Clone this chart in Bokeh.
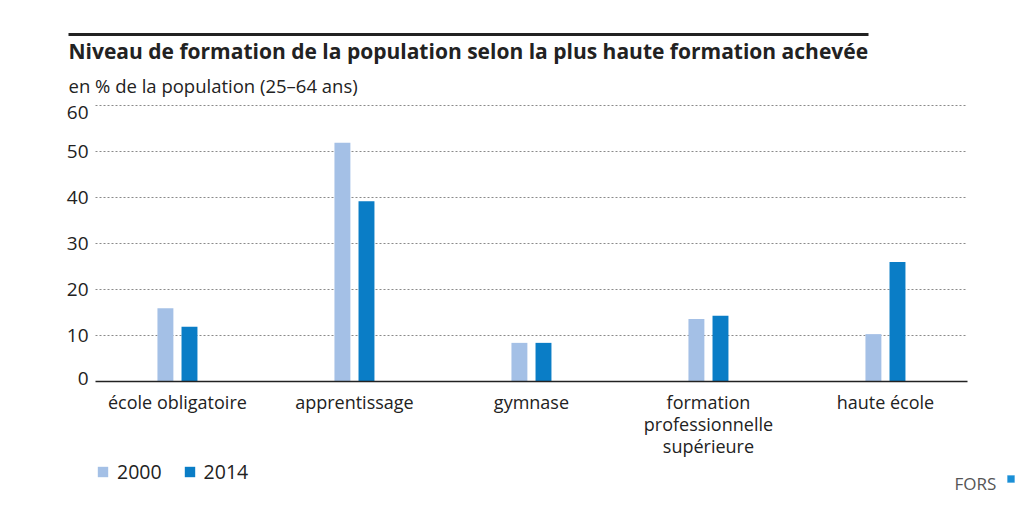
from bokeh.plotting import figure
from bokeh.models import (Range1d, FixedTicker, Label, Legend, LegendItem,
                          BoxAnnotation, LinearAxis)
from bokeh.embed import file_html
from bokeh.resources import INLINE

categories = ["école obligatoire", "apprentissage", "gymnase",
              "formation\nprofessionnelle\nsupérieure", "haute école"]
values_2000 = [15.9, 51.9, 8.4, 13.6, 10.3]
values_2014 = [11.9, 39.2, 8.4, 14.3, 26.0]
years = ["2000", "2014"]
y_ticks = [0, 10, 20, 30, 40, 50, 60]

title_text = "Niveau de formation de la population selon la plus haute formation achevée"
subtitle_text = "en % de la population (25\u201364 ans)"

FONT = "Open Sans"
TXT = "#222222"
C2000 = "#a4c0e6"
C2014 = "#0a7dc6"

W, H = 1035, 512
# plot area (in page pixels): x 95..967, y(0)=381, y(60)=105
PX_X = 177.0
PX_Y = 4.6
XL, XR = -0.463, 4.463
x_start = XL - 95 / PX_X
x_end = x_start + W / PX_X
y_end = 381 / PX_Y
y_start = -(H - 381) / PX_Y

p = figure(width=W, height=H, output_backend="svg", toolbar_location=None,
           x_range=Range1d(x_start, x_end), y_range=Range1d(y_start, y_end),
           min_border=0)
p.outline_line_color = None
p.background_fill_color = "white"
p.border_fill_color = "white"
p.grid.visible = False

# dashed gridlines
gt = y_ticks[1:]
p.segment(x0=[XL] * len(gt), x1=[XR] * len(gt), y0=gt, y1=gt,
          line_color="#8a8a8a", line_width=1, line_dash="2 2")

xs = list(range(len(categories)))
off = 0.068
bw = 0.09
r1 = p.vbar(x=[x - off for x in xs], top=values_2000, width=bw,
            fill_color=C2000, line_color=None)
r2 = p.vbar(x=[x + off for x in xs], top=values_2014, width=bw,
            fill_color=C2014, line_color=None)


def style_y(ax):
    ax.fixed_location = XL
    ax.axis_line_color = None
    ax.major_tick_line_color = None
    ax.minor_tick_line_color = None
    ax.major_tick_out = 0
    ax.major_tick_in = 0
    ax.major_label_standoff = 7
    ax.major_label_text_font = FONT
    ax.major_label_text_font_size = "19px"
    ax.major_label_text_color = TXT


# y axis: inner ticks centred on their gridlines
p.yaxis.ticker = FixedTicker(ticks=y_ticks[1:-1])
style_y(p.yaxis[0])
# end ticks (0 and 60) are nudged inward in the reference
end_pos = [0.55, 58.5]
end_axis = LinearAxis(ticker=FixedTicker(ticks=end_pos),
                      major_label_overrides={end_pos[0]: str(y_ticks[0]),
                                             end_pos[1]: str(y_ticks[-1])})
style_y(end_axis)
p.add_layout(end_axis, "left")

# x axis
p.xaxis.fixed_location = 0
p.xaxis.bounds = (XL, XR)
p.xaxis.ticker = FixedTicker(ticks=xs)
p.xaxis.major_label_overrides = {i: c for i, c in zip(xs, categories)}
p.xaxis.axis_line_color = "#222222"
p.xaxis.axis_line_width = 1.5
p.xaxis.major_tick_line_color = None
p.xaxis.minor_tick_line_color = None
p.xaxis.major_tick_out = 0
p.xaxis.major_tick_in = 0
p.xaxis.major_label_standoff = 8
p.xaxis.major_label_text_font = FONT
p.xaxis.major_label_text_font_size = "18px"
p.xaxis.major_label_text_color = TXT
p.xaxis.major_label_text_line_height = 0.93

# title rule
p.add_layout(BoxAnnotation(left=68, right=868, bottom=H - 35.5, top=H - 32.5,
                           left_units="screen", right_units="screen",
                           bottom_units="screen", top_units="screen",
                           fill_color="#222222", fill_alpha=1, line_color=None))

p.add_layout(Label(x=68, y=H - 50, x_units="screen", y_units="screen",
                   text=title_text, text_font=FONT, text_font_style="bold",
                   text_font_size="21px", text_color=TXT,
                   text_baseline="alphabetic"))
p.add_layout(Label(x=68, y=H - 85, x_units="screen", y_units="screen",
                   text=subtitle_text, text_font=FONT,
                   text_font_size="18.5px", text_color=TXT,
                   text_baseline="alphabetic"))

legend = Legend(items=[LegendItem(label=years[0], renderers=[r1]),
                       LegendItem(label=years[1], renderers=[r2])],
                orientation="horizontal", location=(96, H - 485),
                padding=0, margin=0, spacing=21,
                glyph_width=13, glyph_height=13, label_height=13,
                label_standoff=8, border_line_color=None,
                background_fill_alpha=0,
                label_text_font=FONT, label_text_font_size="19.5px",
                label_text_color=TXT)
p.add_layout(legend, "center")

p.add_layout(Label(x=954, y=H - 483, x_units="screen", y_units="screen",
                   text="FORS", text_font=FONT, text_font_size="17px",
                   text_color="#555555", text_baseline="alphabetic"))
p.add_layout(BoxAnnotation(left=1007, right=1014, bottom=H - 482, top=H - 475,
                           left_units="screen", right_units="screen",
                           bottom_units="screen", top_units="screen",
                           fill_color="#1a8fd6", fill_alpha=1,
                           line_color="#1a8fd6", line_width=1))

open("out.html", "w").write(file_html(p, INLINE))
